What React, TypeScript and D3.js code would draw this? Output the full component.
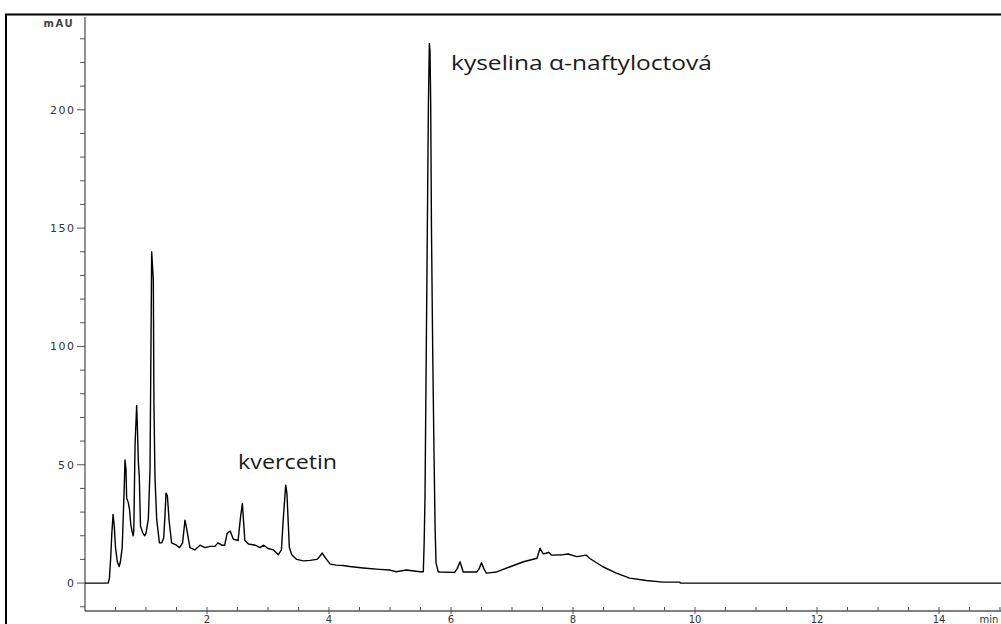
import React from "react";
import * as d3 from "d3";

// retention time (min) and detector signal (mAU)
const retentionTime = [
  0, 0.38, 0.4, 0.42, 0.44, 0.46, 0.48, 0.5, 0.53, 0.56, 0.58, 0.61, 0.64, 0.656, 0.672, 0.683,
  0.71, 0.73, 0.75, 0.77, 0.79, 0.8, 0.82, 0.847, 0.86, 0.875, 0.89, 0.91, 0.95, 0.98, 1.0,
  1.038, 1.066, 1.093, 1.12, 1.13, 1.147, 1.175, 1.22, 1.26, 1.29, 1.31, 1.328, 1.35, 1.38,
  1.42, 1.5, 1.55, 1.6, 1.639, 1.66, 1.72, 1.8, 1.885, 1.967, 2.05, 2.13, 2.18, 2.24, 2.29,
  2.33, 2.38, 2.43, 2.51, 2.55, 2.58, 2.62, 2.68, 2.79, 2.87, 2.93, 3.0, 3.09, 3.17, 3.22,
  3.25, 3.29, 3.31, 3.35, 3.39, 3.47, 3.58, 3.69, 3.8, 3.84, 3.89, 3.93, 4.02, 4.12, 4.23,
  4.34, 4.56, 4.83, 5.0, 5.1, 5.27, 5.49, 5.546, 5.56, 5.574, 5.59, 5.61, 5.63, 5.645, 5.656,
  5.667, 5.68, 5.7, 5.72, 5.74, 5.755, 5.79, 5.82, 6.06, 6.1, 6.148, 6.2, 6.42, 6.46, 6.5,
  6.54, 6.58, 6.75, 6.97, 7.19, 7.41, 7.46, 7.51, 7.56, 7.6, 7.65, 7.84, 7.92, 8.06, 8.22,
  8.27, 8.49, 8.71, 8.93, 9.2, 9.47, 9.75, 9.76, 15.2,
];
const absorbance = [
  0, 0, 2, 10, 21, 29, 24, 15, 9, 7, 9, 15, 38, 52, 48, 36,
  34, 31, 25, 22, 20, 22, 58, 75, 65, 51, 45, 24, 21, 20, 21,
  27, 48, 140, 128, 76, 45, 27, 17, 17, 19, 28, 38, 37, 26,
  17, 16, 15, 17, 26.6, 24, 15, 14, 16, 15, 15.5, 15.5, 17, 16, 16,
  21, 22, 18.6, 18, 28, 33.6, 18, 16.5, 16, 15, 16, 14.6, 14, 12, 14,
  27, 41.4, 38, 15, 12, 10, 9.4, 9.6, 10, 11, 12.7, 11, 8, 7.6, 7.4,
  7, 6.4, 5.8, 5.5, 4.8, 5.5, 4.8, 4.8, 17, 36.5, 84.5, 143.7, 203, 228, 225,
  203, 149, 98.5, 57.6, 22.4, 8.4, 4.8, 4.7, 4.5, 6, 9, 4.7, 4.7, 6, 8.6,
  6, 4.2, 4.7, 6.9, 9, 10.5, 14.7, 12.4, 12.6, 13, 11.8, 12, 12.3, 11.2, 11.8,
  10.5, 6.9, 4.2, 2.1, 1.1, 0.4, 0.4, 0, 0,
];

const xMajorTicks = [2, 4, 6, 8, 10, 12, 14];
const yMajorTicks = [0, 50, 100, 150, 200];
const peakLabels = [
  { text: "kvercetin", t: 2.51, v: 48, len: 99 },
  { text: "kyselina α-naftyloctová", t: 6.0, v: 217, len: 261 },
];

const W = 1001;
const H = 624;

export default function App() {
  const x = d3.scaleLinear().domain([0, 15.2]).range([85, 85 + 15.2 * 61]);
  const y = d3.scaleLinear().domain([-11.8, 239.2]).range([611, 17]);

  const pts: [number, number][] = retentionTime.map((t, i) => [t, absorbance[i]]);
  const line = d3
    .line<[number, number]>()
    .x((d) => x(d[0]))
    .y((d) => y(d[1]));

  const xMinor = d3.range(0.5, 15.1, 0.5).filter((t) => !xMajorTicks.includes(t));
  const yMinor = d3.range(-10, 240, 10).filter((v) => !yMajorTicks.includes(v));
  const axisColor = "#555";
  const labelFont = "DejaVu Sans, sans-serif";

  return (
    <svg
      width={W}
      height={H}
      style={{ position: "absolute", left: 0, top: 0, background: "#fff" }}
    >
      {/* outer frame */}
      <rect x={6} y={14.5} width={1010} height={640} fill="none" stroke="#000" strokeWidth={2} />

      {/* y axis */}
      <line x1={85} x2={85} y1={y(239.2)} y2={611} stroke={axisColor} strokeWidth={1.3} />
      {yMinor.map((v) => (
        <line key={"ym" + v} x1={80} x2={85} y1={y(v)} y2={y(v)} stroke={axisColor} />
      ))}
      {yMajorTicks.map((v) => (
        <g key={"yM" + v}>
          <line x1={77} x2={85} y1={y(v)} y2={y(v)} stroke={axisColor} />
          <text
            x={74}
            y={y(v)}
            dy="0.35em"
            textAnchor="end"
            fontFamily={labelFont}
            fontSize={11}
            fill="#333"
            textLength={v === 0 ? undefined : v < 100 ? 16 : 24}
          >
            {v}
          </text>
        </g>
      ))}
      <text
        x={58}
        y={27}
        textAnchor="middle"
        fontFamily={labelFont}
        fontSize={10}
        fontWeight="bold"
        fill="#444"
        textLength={29}
      >
        mAU
      </text>

      {/* x axis */}
      <line x1={85} x2={W} y1={611} y2={611} stroke={axisColor} strokeWidth={1.3} />
      {xMinor.map((t) => (
        <line key={"xm" + t} x1={x(t)} x2={x(t)} y1={607} y2={611} stroke={axisColor} />
      ))}
      {xMajorTicks.map((t) => (
        <g key={"xM" + t}>
          <line x1={x(t)} x2={x(t)} y1={607} y2={614} stroke={axisColor} />
          <text
            x={x(t)}
            y={623}
            textAnchor="middle"
            fontFamily={labelFont}
            fontSize={10}
            fill="#333"
          >
            {t}
          </text>
        </g>
      ))}
      <text x={989} y={623} textAnchor="middle" fontFamily={labelFont} fontSize={10} fill="#333">
        min
      </text>

      {/* trace */}
      <path d={line(pts) ?? ""} fill="none" stroke="#000" strokeWidth={1.4} strokeLinejoin="round" />

      {/* peak annotations */}
      {peakLabels.map((p) => (
        <text
          key={p.text}
          x={x(p.t)}
          y={y(p.v)}
          fontFamily="Open Sans, sans-serif"
          fontSize={20}
          fill="#1a1a1a"
          textLength={p.len}
          lengthAdjust="spacingAndGlyphs"
        >
          {p.text}
        </text>
      ))}
    </svg>
  );
}
